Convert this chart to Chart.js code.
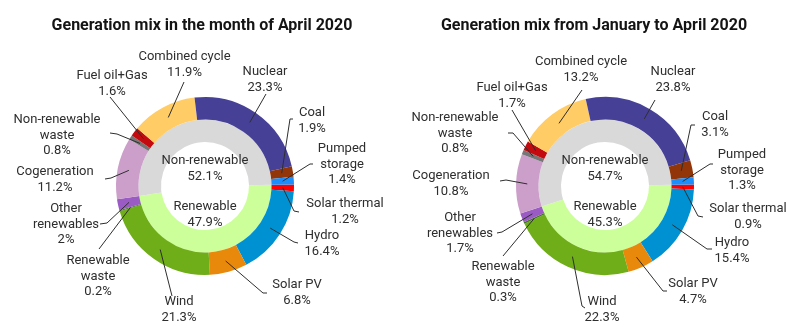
<!DOCTYPE html>
<html>
<head>
<meta charset="utf-8">
<script src="https://cdn.jsdelivr.net/npm/chart.js@4.4.1/dist/chart.umd.min.js"></script>
<style>
  html, body { margin: 0; padding: 0; background: #fff; }
  #wrap { display: flex; width: 800px; height: 332px; }
  canvas { display: block; }
</style>
</head>
<body>
<div id="wrap">
  <canvas id="april" width="400" height="332"></canvas>
  <canvas id="ytd" width="400" height="332"></canvas>
</div>
<script>
// Generation sources, clockwise from 3 o'clock
const sources = ['Solar thermal', 'Hydro', 'Solar PV', 'Wind', 'Renewable waste', 'Other renewables',
  'Cogeneration', 'Non-renewable waste', 'Fuel oil+Gas', 'Combined cycle', 'Nuclear', 'Coal', 'Pumped storage'];
const sourceColors = ['#FF0000', '#0091D3', '#E8890B', '#6FAD19', '#3F7A1A', '#9A5BC4',
  '#CC9FCB', '#767676', '#C4090F', '#FFCC66', '#464196', '#923508', '#1C8EFB'];

const groups = ['Renewable', 'Non-renewable'];
const groupColors = ['#CCFF99', '#D9D9D9'];

// Shares (%) for April 2020
const aprilShares = [1.2, 16.4, 6.8, 21.3, 0.2, 2, 11.2, 0.8, 1.6, 11.9, 23.3, 1.9, 1.4];
const aprilGroupShares = [47.9, 52.1];

// Shares (%) for January to April 2020
const ytdShares = [0.9, 15.4, 4.7, 22.3, 0.3, 1.7, 10.8, 0.8, 1.7, 13.2, 23.8, 3.1, 1.3];
const ytdGroupShares = [45.3, 54.7];

const aprilTitle = 'Generation mix in the month of April 2020';
const ytdTitle = 'Generation mix from January to April 2020';

// Callout placement: text anchor and leader path (leader ends on the slice)
const aprilCallouts = [
  { at: [345, 204], path: [[299, 212], [294, 211]] },
  { at: [322, 236], path: [[298, 243], [294, 242]] },
  { at: [297, 285], path: [[267, 293], [263, 293]] },
  { at: [179, 302], path: [[172, 296]] },
  { at: [98, 261], split: true, path: [[99, 249]] },
  { at: [66, 209], split: true, path: [[100, 224], [107, 223]] },
  { at: [55, 172], path: [[105, 179], [111, 178]] },
  { at: [57, 120], split: true, path: [[110, 133], [117, 134]] },
  { at: [112, 76], path: [[110, 97]] },
  { at: [184.5, 57], path: [[184, 82]] },
  { at: [265, 72], path: [[266, 94]] },
  { at: [312, 113], path: [[293, 119], [290, 119]] },
  { at: [342, 149], split: true, path: [[313, 164], [310, 164]] }
];
const ytdCallouts = [
  { at: [348, 209], path: [[303, 217], [298, 216]] },
  { at: [332, 243], path: [[312, 249], [307, 249]] },
  { at: [293, 284], path: [[267, 291], [263, 291]] },
  { at: [202, 302], path: [[185, 308], [182, 306]] },
  { at: [103, 267], split: true, path: [[103, 256]] },
  { at: [60, 218], split: true, path: [[97, 233], [102, 232]] },
  { at: [51, 176], path: [[100, 181], [106, 180]] },
  { at: [55, 118], split: true, path: [[108, 133], [113, 133]] },
  { at: [112, 88], path: [[112, 110]] },
  { at: [181, 62], path: [[182, 90]] },
  { at: [273, 72], path: [[255, 100]] },
  { at: [315, 117], path: [[295, 125], [291, 125]] },
  { at: [342, 155], split: true, path: [[313, 164], [310, 164]] }
];

const FONT = '13px Roboto, "Liberation Sans", sans-serif';
const TITLE_FONT = 'bold 16px Roboto, "Liberation Sans", sans-serif';
const LINE = 15.5;
const INK = '#2e2e2e';

function splitName(name) {
  const k = name.indexOf(' ');
  return k < 0 ? [name] : [name.slice(0, k), name.slice(k + 1)];
}

const calloutPlugin = {
  id: 'callouts',
  afterDraw(chart, args, opts) {
    const ctx = chart.ctx;
    const outer = chart.getDatasetMeta(0);
    const inner = chart.getDatasetMeta(1);
    const values = chart.data.datasets[0].data;
    const groupValues = chart.data.datasets[1].data;
    ctx.save();

    // Title
    ctx.font = TITLE_FONT;
    ctx.fillStyle = '#141414';
    ctx.textAlign = 'center';
    ctx.textBaseline = 'middle';
    ctx.fillText(opts.title, opts.titleX, 26);

    ctx.font = FONT;
    ctx.fillStyle = INK;
    ctx.strokeStyle = INK;
    ctx.lineWidth = 1;

    opts.callouts.forEach((c, i) => {
      const arc = outer.data[i];
      const p = arc.getProps(['x', 'y', 'startAngle', 'endAngle', 'innerRadius', 'outerRadius'], true);
      const mid = (p.startAngle + p.endAngle) / 2;
      const r = (p.innerRadius + p.outerRadius) / 2;
      const ax = p.x + Math.cos(mid) * r;
      const ay = p.y + Math.sin(mid) * r;
      ctx.beginPath();
      ctx.moveTo(c.path[0][0], c.path[0][1]);
      for (let k = 1; k < c.path.length; k++) ctx.lineTo(c.path[k][0], c.path[k][1]);
      ctx.lineTo(ax, ay);
      ctx.stroke();

      const name = chart.data.labels[i];
      const lines = c.split ? splitName(name) : [name];
      lines.push(values[i] + '%');
      lines.forEach((t, k) => ctx.fillText(t, c.at[0], c.at[1] + k * LINE));
    });

    // Group labels inside the inner ring
    const cx = inner.data[0].x, cy = inner.data[0].y;
    ctx.fillText(groups[1], cx, cy - 25);
    ctx.fillText(groupValues[1] + '%', cx, cy - 25 + LINE);
    ctx.fillText(groups[0], cx, cy + 21);
    ctx.fillText(groupValues[0] + '%', cx, cy + 21 + LINE);
    ctx.restore();
  }
};

function build(id, shares, groupShares, title, titleX, callouts) {
  return new Chart(document.getElementById(id), {
    type: 'doughnut',
    data: {
      labels: sources,
      datasets: [
        { data: shares, backgroundColor: sourceColors, borderWidth: 0, hoverBorderWidth: 0, hoverOffset: 0 },
        { data: groupShares, backgroundColor: groupColors, borderWidth: 0, hoverBorderWidth: 0, hoverOffset: 0 }
      ]
    },
    options: {
      responsive: false,
      animation: false,
      events: [],
      rotation: 89,
      cutout: 44,
      layout: { padding: { top: 97, left: 116, right: 106, bottom: 57 } },
      plugins: {
        legend: { display: false },
        tooltip: { enabled: false },
        callouts: { title, titleX, callouts }
      }
    },
    plugins: [calloutPlugin]
  });
}

build('april', aprilShares, aprilGroupShares, aprilTitle, 202, aprilCallouts);
build('ytd', ytdShares, ytdGroupShares, ytdTitle, 194, ytdCallouts);
</script>
</body>
</html>
